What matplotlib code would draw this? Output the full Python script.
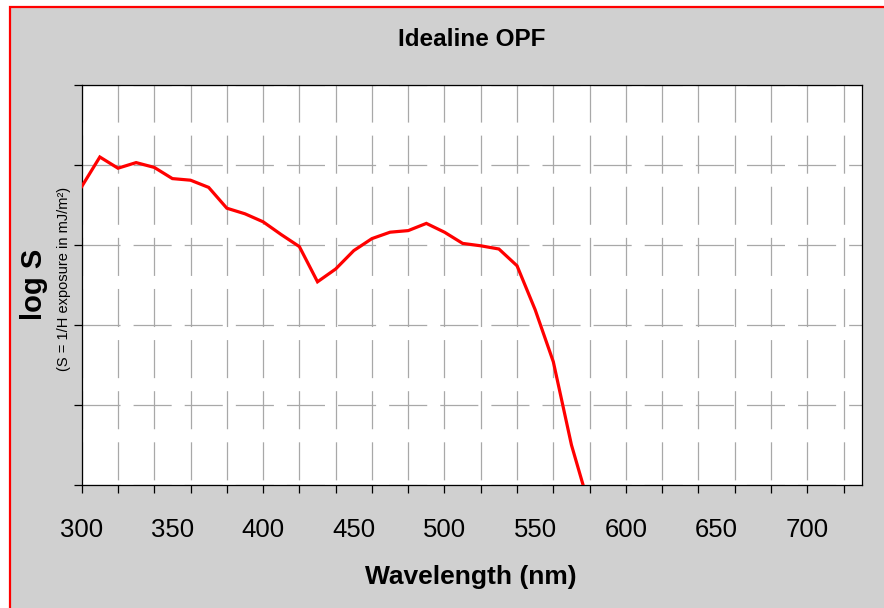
import matplotlib
matplotlib.use("Agg")
import matplotlib.pyplot as plt
from matplotlib.patches import Rectangle
import numpy as np

plt.rcParams['font.family'] = ['Liberation Sans', 'DejaVu Sans']
plt.rcParams['lines.scale_dashes'] = False

# Data (log S; arbitrary log units, ticks unlabeled)
wavelength = [300, 310, 320, 330, 340, 350, 360, 370, 380, 390, 400, 410, 420,
              430, 440, 450, 460, 470, 480, 490, 500, 510, 520, 530, 540, 550,
              560, 570, 580]
log_s = [3.73, 4.10, 3.96, 4.03, 3.97, 3.83, 3.81, 3.72, 3.46, 3.39, 3.29, 3.13,
         2.98, 2.54, 2.70, 2.93, 3.08, 3.16, 3.18, 3.27, 3.16, 3.02, 2.99, 2.95,
         2.74, 2.19, 1.54, 0.50, -0.28]
x_major_ticks = list(range(300, 721, 20))
x_label_ticks = [300, 350, 400, 450, 500, 550, 600, 650, 700]
y_ticks = [0, 1, 2, 3, 4, 5]

W, H = 884, 608
fig = plt.figure(figsize=(W / 100, H / 100), dpi=100, facecolor='white')

# gray panel with red border
bg = Rectangle((10 / W, -0.1), 1.2, (H - 7) / H + 0.1, transform=fig.transFigure,
               facecolor='#d0d0d0', edgecolor='#ff0000', linewidth=1.6, zorder=-10)
fig.patches.append(bg)

ax = fig.add_axes([81.7 / W, (H - 485) / H, 780 / W, 400 / H])
ax.set_facecolor('white')
ax.plot(wavelength, log_s, color='#ff0000', linewidth=2.3, zorder=3, solid_joinstyle='miter')
ax.set_xlim(300, 730)
ax.set_ylim(0, 5)

ax.xaxis.remove_overlapping_locs = False
ax.set_xticks(x_major_ticks)
ax.set_xticklabels([])
ax.set_xticks(x_label_ticks, minor=True)
ax.set_xticklabels([str(v) for v in x_label_ticks], minor=True)
ax.tick_params(axis='x', which='major', direction='out', length=6, width=0.9, color='black')
ax.tick_params(axis='x', which='minor', length=0, labelsize=18.5, pad=23.5)
ax.set_yticks(y_ticks)
ax.set_yticklabels([])
ax.tick_params(axis='y', which='major', direction='out', length=6, width=0.9, color='black')

ax.xaxis.grid(True, which='major', color='#a8a8a8', linewidth=0.9,
              linestyle=(33.1, (27.4, 9.4)))
ax.yaxis.grid(True, which='major', color='#a8a8a8', linewidth=0.9,
              linestyle=(0, (27.4, 9.4)))
ax.set_axisbelow(True)
for s in ax.spines.values():
    s.set_color('black')
    s.set_linewidth(0.9)

fig.text(472 / W, 1 - 40 / H, 'Idealine OPF', ha='center', va='center',
         fontsize=17.5, fontweight='bold')
fig.text(471 / W, 1 - 577 / H, 'Wavelength (nm)', ha='center', va='center',
         fontsize=19, fontweight='bold')
fig.text(34 / W, 1 - 284 / H, 'log S', ha='center', va='center', rotation=90,
         fontsize=21, fontweight='bold')
fig.text(64 / W, 1 - 279 / H, '(S = 1/H exposure in mJ/m²)', ha='center', va='center',
         rotation=90, fontsize=10.5)

fig.savefig('out.png', dpi=100, facecolor=fig.get_facecolor())
